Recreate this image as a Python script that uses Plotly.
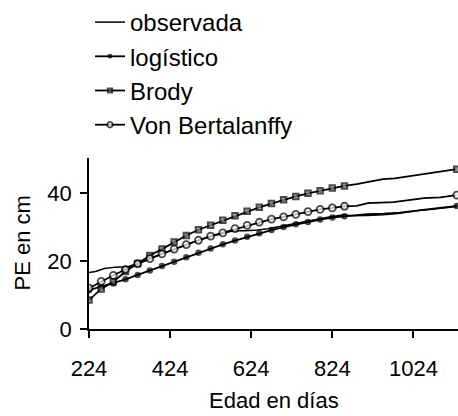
import plotly.graph_objects as go

# ---- data ----
model_days = [224, 254, 284, 314, 344, 374, 404, 434, 464, 494, 524,
              554, 584, 614, 644, 674, 704, 734, 764, 794, 824, 854]
tail_days_brody = [884, 908, 949, 978, 1015, 1048, 1085, 1131]
tail_days_vb = [884, 912, 975, 1015, 1050, 1090, 1131]
tail_days_log = [884, 910, 950, 990, 1032, 1070, 1100, 1131]

logistico = [11.4, 12.4, 13.4, 14.6, 15.9, 17.2, 18.5, 19.8, 21.1, 22.4, 23.7,
             24.9, 26.0, 27.1, 28.2, 29.1, 30.0, 30.8, 31.5, 32.2, 32.8, 33.2]
logistico_tail = [33.5, 33.8, 33.9, 34.2, 34.8, 35.3, 35.8, 36.2]

brody = [8.5, 11.8, 13.9, 16.9, 19.3, 21.6, 23.5, 25.6, 27.5, 29.2, 30.5,
         32.0, 33.3, 34.6, 35.8, 36.9, 38.0, 39.0, 39.9, 40.7, 41.5, 42.1]
brody_tail = [42.6, 43.1, 44.1, 44.3, 45.0, 45.5, 46.3, 47.0]

bertalanffy = [12.0, 14.0, 15.8, 17.5, 19.2, 20.7, 22.1, 23.5, 24.8, 26.1, 27.3,
               28.3, 29.5, 30.5, 31.4, 32.3, 33.0, 33.7, 34.5, 35.2, 35.6, 36.1]
bertalanffy_tail = [36.2, 37.0, 37.3, 37.9, 38.5, 38.7, 39.4]

obs_days = [224, 240, 262, 290, 320, 344, 374, 404, 434, 464, 494, 524, 554,
            580, 610, 640, 665, 700, 730, 760, 790, 820, 854, 870, 910, 950,
            985, 1032, 1070, 1100, 1131]
observada = [16.6, 16.9, 17.8, 18.2, 18.3, 19.3, 20.6, 22.1, 23.5, 24.8, 26.1,
             27.2, 28.2, 28.9, 28.9, 29.1, 29.5, 30.3, 31.0, 31.8, 32.5, 33.0,
             33.6, 33.3, 33.4, 33.6, 34.0, 34.8, 35.2, 35.6, 36.0]

x_ticks = [224, 424, 624, 824, 1024]
y_ticks = [0, 20, 40]
x_title = "Edad en días"
y_title = "PE en cm"

FONT = "Liberation Sans, Arial, sans-serif"


def sizes(n_main, n_tail, s):
    return [s] * n_main + [0] * (n_tail - 1) + [s]


fig = go.Figure()

fig.add_trace(go.Scatter(
    x=obs_days, y=observada, mode="lines", name="observada",
    line=dict(color="black", width=1.5), legendgroup="a"))

fig.add_trace(go.Scatter(
    x=model_days + tail_days_log, y=logistico + logistico_tail,
    mode="lines+markers", name="logístico", legendgroup="b",
    line=dict(color="black", width=1.8),
    marker=dict(symbol="circle", color="black",
                size=sizes(len(model_days), len(tail_days_log), 6.5),
                line=dict(width=0))))

fig.add_trace(go.Scatter(
    x=model_days + tail_days_brody, y=brody + brody_tail,
    mode="lines+markers", name="Brody", legendgroup="c",
    line=dict(color="black", width=1.8),
    marker=dict(symbol="square", color="#888",
                size=sizes(len(model_days), len(tail_days_brody), 5.5),
                line=dict(color="black", width=2))))

fig.add_trace(go.Scatter(
    x=model_days + tail_days_vb, y=bertalanffy + bertalanffy_tail,
    mode="lines+markers", name="Von Bertalanffy", legendgroup="d",
    line=dict(color="black", width=1.8),
    marker=dict(symbol="circle", color="white",
                size=sizes(len(model_days), len(tail_days_vb), 7),
                line=dict(color="black", width=1.8))))

fig.update_layout(
    width=458, height=416,
    margin=dict(l=89, r=0, t=158, b=87, autoexpand=False),
    paper_bgcolor="white", plot_bgcolor="white",
    font=dict(family=FONT, size=22, color="black"),
    showlegend=True,
    legend=dict(
        xref="container", yref="container",
        x=90 / 458, y=1 + 7 / 416, xanchor="left", yanchor="top",
        font=dict(family=FONT, size=24, color="black"),
        bgcolor="rgba(0,0,0,0)", borderwidth=0,
        tracegroupgap=4, traceorder="normal",
    ),
    xaxis=dict(
        range=[224, 1134], tickmode="array", tickvals=x_ticks,
        ticktext=[str(v) for v in x_ticks], tickangle=0,
        showgrid=False, zeroline=False, showline=True,
        linecolor="black", linewidth=1.5,
        ticks="outside", ticklen=7, tickwidth=1.5, tickcolor="black",
        tickfont=dict(size=22), ticklabelstandoff=12,
    ),
    yaxis=dict(
        range=[0, 50.3], tickmode="array", tickvals=y_ticks,
        showgrid=False, zeroline=False, showline=True,
        linecolor="black", linewidth=1.5,
        ticks="outside", ticklen=7, tickwidth=1.5, tickcolor="black",
        tickfont=dict(size=22), ticklabelstandoff=4,
    ),
    annotations=[
        dict(text=x_title, xref="paper", yref="paper", x=0.5, y=(329 - 400) / 171,
             xanchor="center", yanchor="middle", showarrow=False,
             font=dict(family=FONT, size=22, color="black")),
        dict(text=y_title, xref="paper", yref="paper", x=(22 - 89) / 369, y=0.5,
             xanchor="center", yanchor="middle", showarrow=False, textangle=-90,
             font=dict(family=FONT, size=22, color="black")),
    ],
)

fig.write_html("out.html", config={"displayModeBar": False},
               post_script="document.body.style.margin='0';")
